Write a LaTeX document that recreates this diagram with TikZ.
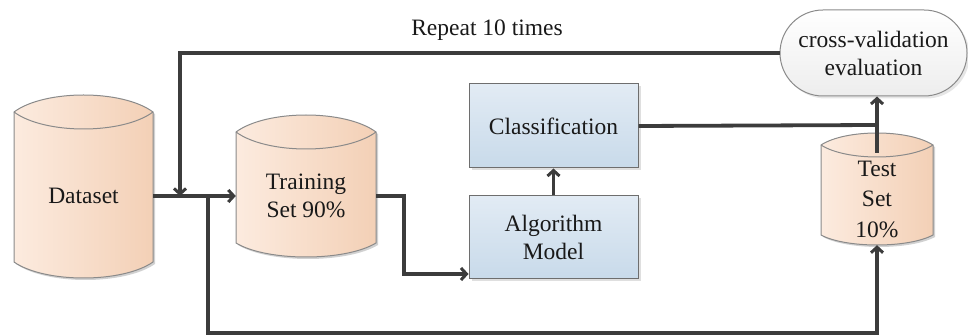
\documentclass[tikz,border=0pt]{standalone}
\usepackage{fontspec}
\setmainfont{Liberation Serif}
\usetikzlibrary{arrows.meta,shadows}
\definecolor{lineC}{HTML}{3C3C3C}
\definecolor{cylL}{HTML}{FCEBDF}
\definecolor{cylR}{HTML}{F3D0B6}
\definecolor{cylB}{HTML}{8A8A8A}
\definecolor{boxT}{HTML}{E2EBF4}
\definecolor{boxB}{HTML}{C8DAEA}
\definecolor{boxD}{HTML}{6E6E6E}
\definecolor{cvT}{HTML}{FFFFFF}
\definecolor{cvB}{HTML}{EDEDED}
\newcommand{\cylshape}[6]{%
  \pgfmathsetmacro{\cA}{#1+0.22*(#2-#1)}%
  \pgfmathsetmacro{\cB}{#2-0.22*(#2-#1)}%
  \pgfmathsetmacro{\tU}{#3-4/3*#4}%
  \pgfmathsetmacro{\tD}{#3+4/3*#4}%
  \pgfmathsetmacro{\bD}{#5+4/3*#6}%
  \fill[black!18] ([shift={(2pt,-2pt)}]#1,#3) .. controls ([shift={(2pt,-2pt)}]\cA,\tU) and ([shift={(2pt,-2pt)}]\cB,\tU) .. ([shift={(2pt,-2pt)}]#2,#3) -- ([shift={(2pt,-2pt)}]#2,#5) .. controls ([shift={(2pt,-2pt)}]\cB,\bD) and ([shift={(2pt,-2pt)}]\cA,\bD) .. ([shift={(2pt,-2pt)}]#1,#5) -- cycle;
  \shade[left color=cylL,right color=cylR] (#1,#3) .. controls (\cA,\tU) and (\cB,\tU) .. (#2,#3) -- (#2,#5) .. controls (\cB,\bD) and (\cA,\bD) .. (#1,#5) -- cycle;
  \draw[cylB,line width=1pt] (#1,#3) .. controls (\cA,\tU) and (\cB,\tU) .. (#2,#3) -- (#2,#5) .. controls (\cB,\bD) and (\cA,\bD) .. (#1,#5) -- cycle;
  \draw[cylB,line width=1pt] (#1,#3) .. controls (\cA,\tD) and (\cB,\tD) .. (#2,#3);
}
\tikzset{
  lbl/.style={font=\fontsize{23.5pt}{28pt}\selectfont, align=center, inner sep=0pt, text=black!90},
  cylnode/.style={lbl, shape=rectangle},
  bluebox/.style={lbl, draw=boxD, line width=1pt, top color=boxT, bottom color=boxB,
    drop shadow={shadow xshift=2.5pt, shadow yshift=-2.5pt, opacity=0.25}},
  cvbox/.style={lbl, draw=cylB, line width=1pt, rounded corners=43pt, top color=cvT, bottom color=cvB,
    drop shadow={shadow xshift=2.5pt, shadow yshift=-2.5pt, opacity=0.2}},
  conn/.style={draw=lineC, line width=3.8pt},
  arr/.style={conn, -{Straight Barb[length=5.5pt,width=12pt,line width=3pt]}}
}
\begin{document}
\begin{tikzpicture}[x=1pt, y=-1pt]
\useasboundingbox (0,0) rectangle (968,336);
% cylinders
\cylshape{14}{153}{112}{17}{262}{16}
\cylshape{236}{376}{132}{17}{243}{14}
\cylshape{821}{933}{145}{12}{235}{10}
\node[cylnode, minimum width=139pt, minimum height=100pt] (ds) at (83.5,196) {Dataset};
\node[cylnode, minimum width=140pt, minimum height=100pt] (tr) at (306,196) {Training\\Set 90\%};
\node[cylnode, minimum width=112pt, minimum height=92pt, font=\fontsize{23.5pt}{30.5pt}\selectfont] (te) at (877,199) {Test\\Set\\10\%};
% boxes
\node[bluebox, minimum width=169pt, minimum height=84pt] (cls) at (553.5,126) {Classification};
\node[bluebox, minimum width=169pt, minimum height=83pt] (alg) at (553.5,237.5) {Algorithm\\Model};
\node[cvbox, minimum width=187pt, minimum height=86pt] (cv) at (873.5,53) {cross-validation\\evaluation};
\node[lbl] (rep) at (487,30) {Repeat 10 times};
% connectors
\coordinate (j1) at (180,196);
\coordinate (j2) at (208,196);
\coordinate (b1) at (208,333);
\coordinate (t1) at (404,196);
\coordinate (ce) at (877,125);
\draw[arr] (ds.east) -- (tr.west);
\draw[arr] (cv.west) -| (j1);
\draw[arr] (j2) -- (b1) -| (te.south);
\draw[arr] (tr.east) -- (t1) |- ([yshift=-36.5pt]alg.west);
\draw[arr] (alg.north) -- (cls.south);
\draw[conn] (cls.east) -- (ce);
\draw[arr] (te.north) -- (te.north |- cv.south);
\end{tikzpicture}
\end{document}
